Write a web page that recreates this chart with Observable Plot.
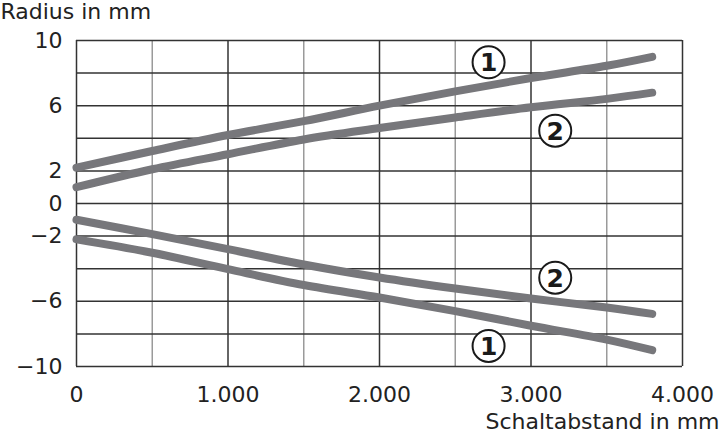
<!DOCTYPE html>
<html>
<head>
<meta charset="utf-8">
<script src="https://cdn.jsdelivr.net/npm/d3@7"></script>
<script src="https://cdn.jsdelivr.net/npm/@observablehq/plot@0.6"></script>
<style>
  html, body { margin: 0; padding: 0; background: #fff; }
  #chart svg { display: block; }
</style>
</head>
<body>
<div id="chart"></div>
<script>
// Data
const distance = [0, 500, 1000, 1500, 2000, 2500, 3000, 3500, 3800];
const upper1 = [2.2, 3.22, 4.2, 5.05, 6.0, 6.88, 7.7, 8.45, 9.0];
const upper2 = [1.0, 2.1, 3.02, 3.93, 4.63, 5.28, 5.9, 6.42, 6.8];
const lower2 = [-1.0, -1.88, -2.8, -3.74, -4.54, -5.22, -5.83, -6.38, -6.77];
const lower1 = [-2.2, -3.02, -4.03, -5.0, -5.77, -6.6, -7.5, -8.35, -9.0];

const yTickValues = [10, 6, 2, 0, -2, -6, -10];
const yGrid = [10, 8, 6, 4, 2, 0, -2, -4, -6, -8, -10];
const xTickValues = [0, 1000, 2000, 3000, 4000];
const xTickLabels = ["0", "1.000", "2.000", "3.000", "4.000"];
const xMinorGrid = [500, 1500, 2500, 3500];
const xMajorGrid = [0, 1000, 2000, 3000, 4000];

const curveLabels = ["1", "2", "2", "1"];
const labelX = [2720, 3160, 3160, 2720];
const labelY = [8.66, 4.47, -4.55, -8.74];

const yTitle = "Radius in mm";
const xTitle = "Schaltabstand in mm";

const seriesList = [upper1, upper2, lower2, lower1];
const rows = seriesList.flatMap((vals, s) =>
  distance.map((d, i) => ({series: s, x: d, y: vals[i]})));
const labels = curveLabels.map((t, i) => ({t, x: labelX[i], y: labelY[i]}));

const lineColor = "#77777b";
const darkGrid = "#333333";
const lightGrid = "#9a9a9a";
const font = "'DejaVu Sans', Verdana, sans-serif";

const chart = Plot.plot({
  width: 720,
  height: 432,
  marginLeft: 76,
  marginRight: 38,
  marginTop: 40,
  marginBottom: 66,
  style: {fontFamily: font, fontSize: "22px", color: "#222", background: "#fff"},
  x: {domain: [0, 4000]},
  y: {domain: [-10, 10]},
  marks: [
    Plot.ruleX(xMinorGrid, {stroke: lightGrid, strokeWidth: 1.5}),
    Plot.ruleY(yGrid, {stroke: darkGrid, strokeWidth: 1.5}),
    Plot.ruleX(xMajorGrid, {stroke: darkGrid, strokeWidth: 1.5}),
    Plot.line(rows, {x: "x", y: "y", z: "series", stroke: lineColor, strokeWidth: 8,
      strokeLinecap: "round", strokeLinejoin: "round", curve: "catmull-rom"}),
    Plot.dot(labels, {x: "x", y: "y", r: 16, fill: "#fff", stroke: "#1a1a1a", strokeWidth: 2}),
    Plot.text(labels, {x: "x", y: "y", text: "t", fontSize: 25, fontWeight: "bold", fill: "#1a1a1a", dy: 1}),
    Plot.axisY({ticks: yTickValues, tickSize: 0, tickPadding: 14, label: null, fontSize: 22, fontFamily: font}),
    Plot.axisX({ticks: xTickValues, tickFormat: (d) => xTickLabels[xTickValues.indexOf(d)],
      tickSize: 0, tickPadding: 20, label: null, fontSize: 22, fontFamily: font}),
    Plot.text([yTitle], {frameAnchor: "top-left", textAnchor: "start", lineAnchor: "top",
      dx: -76, dy: -37, fontSize: 22, fill: "#222"}),
    Plot.text([xTitle], {frameAnchor: "bottom-right", textAnchor: "end", lineAnchor: "bottom",
      dx: 37, dy: 62, fontSize: 22, fill: "#222"})
  ]
});
document.getElementById("chart").appendChild(chart);
</script>
</body>
</html>
